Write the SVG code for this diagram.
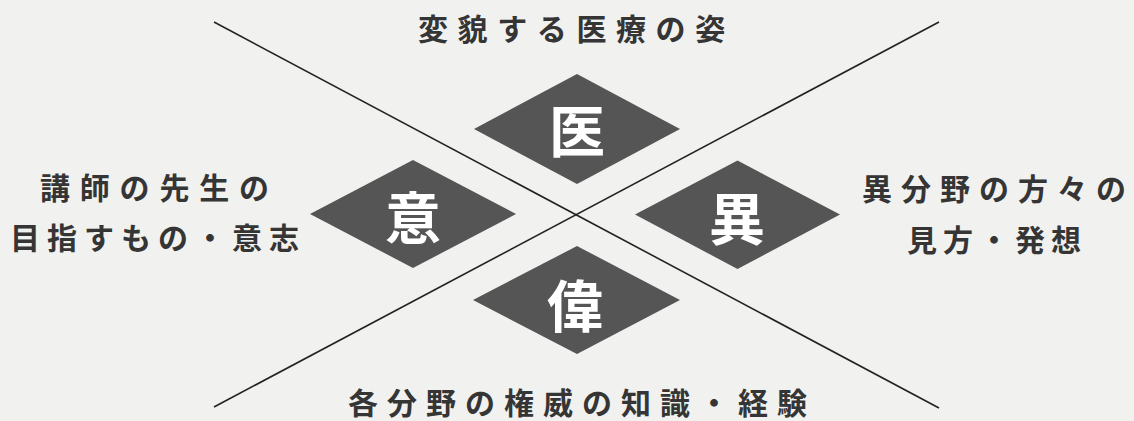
<svg xmlns="http://www.w3.org/2000/svg" width="1134" height="421" viewBox="0 0 1134 421">
<style>
.bg{fill:#f1f1ef}
.conn{stroke:#222;stroke-width:1.6;fill:none}
.dia{fill:#555;stroke:none}
.dch{font-family:"Noto Sans CJK JP","Noto Sans CJK SC",sans-serif;font-size:56px;font-weight:700;fill:#fff;text-anchor:middle;dominant-baseline:central}
.lbl{font-family:"Noto Sans CJK JP","Noto Sans CJK SC",sans-serif;font-size:30px;font-weight:700;fill:#353535;dominant-baseline:central}
</style>
<rect class="bg" x="0" y="0" width="1134" height="421"/>
<g id="connectors">
<line class="conn" x1="214" y1="22" x2="939" y2="408"/>
<line class="conn" x1="939" y1="22" x2="214" y2="407"/>
</g>
<g id="node-i">
<polygon class="dia" points="577,74 680,129 577,184 474,129"/>
<text class="dch" x="577" y="127">医</text>
</g>
<g id="node-yi">
<polygon class="dia" points="413,160 516,214 413,268 310,214"/>
<text class="dch" x="413" y="214">意</text>
</g>
<g id="node-koto">
<polygon class="dia" points="737.5,160.5 840,214.5 737.5,269 635,214.5"/>
<text class="dch" x="737" y="215">異</text>
</g>
<g id="node-i2">
<polygon class="dia" points="577,246 680,300 577,354 473,300"/>
<text class="dch" x="575" y="302">偉</text>
</g>
<g id="label-top">
<text class="lbl" x="418 457.6 497.2 536.8 576.4 616 655.6 695.2" y="27">変貌する医療の姿</text>
</g>
<g id="label-left">
<text class="lbl" x="40 79.8 119.6 159.4 199.2 239" y="186">講師の先生の</text>
<text class="lbl" x="10 47 84 121 158 195 232 269" y="236">目指すもの・意志</text>
</g>
<g id="label-right">
<text class="lbl" x="862 901 940 979 1018 1057 1096" y="187">異分野の方々の</text>
<text class="lbl" x="907 943 979 1015 1051" y="238">見方・発想</text>
</g>
<g id="label-bottom">
<text class="lbl" x="348 387 426 465 504 543 582 621 660 699 738 777" y="401">各分野の権威の知識・経験</text>
</g>
</svg>
